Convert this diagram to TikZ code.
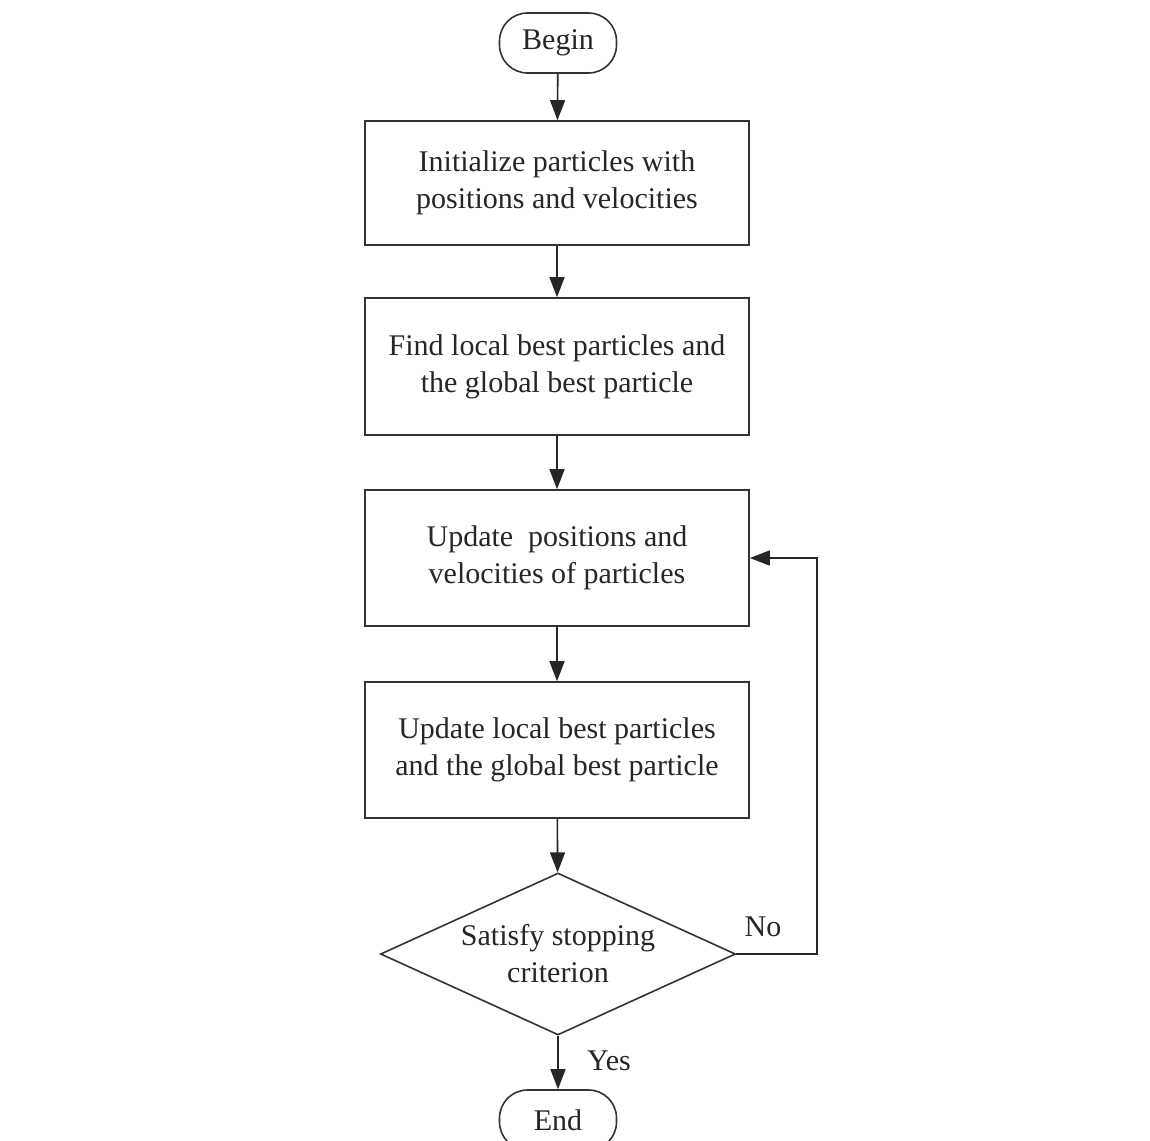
\documentclass[tikz,border=0pt]{standalone}
\usepackage{fontspec}
\setmainfont{Liberation Serif}
\usetikzlibrary{shapes.geometric,arrows.meta}
\begin{document}
\begin{tikzpicture}[x=1pt,y=-1pt,
  every node/.style={font=\fontsize{30}{37}\selectfont, text=black!85},
  pill/.style={draw=black!80, line width=1.6pt, rounded corners=28pt, minimum width=117pt, minimum height=60pt, inner sep=0pt},
  procbox/.style={draw=black!80, line width=1.6pt, minimum width=384pt, minimum height=124pt, align=center, inner sep=0pt},
  decision/.style={draw=black!80, line width=1.6pt, diamond, aspect=2.2, minimum width=355pt, minimum height=162pt, align=center, inner sep=0pt},
  flow/.style={draw=black!85, line width=1.6pt, -{Triangle[length=20pt,width=15pt]}},
  lbl/.style={font=\fontsize{30}{36}\selectfont}]
\useasboundingbox (0,0) rectangle (1150,1140);
\node[pill] (begin) at (558,43) {Begin};
\node[procbox] (init) at (557,183) {Initialize particles with\\positions and velocities};
\node[procbox, minimum height=137pt] (find) at (557,366.5) {Find local best particles and\\the global best particle};
\node[procbox, minimum height=136pt] (upd) at (557,558) {Update\ \ positions and\\velocities of particles};
\node[procbox, minimum height=136pt] (updbest) at (557,750) {Update local best particles\\and the global best particle};
\node[decision] (dec) at (558,954) {Satisfy stopping\\criterion};
\node[pill] (end) at (558,1120) {End};
\coordinate (c1) at (817,954);
\coordinate (c2) at (817,558);
\draw[flow] (begin) -- (init);
\draw[flow] (init) -- (find);
\draw[flow] (find) -- (upd);
\draw[flow] (upd) -- (updbest);
\draw[flow] (updbest) -- (dec);
\draw[flow] (dec) -- (end);
\draw[flow] (dec.east) -- (c1) -- (c2) -- (upd.east);
\node[lbl] (no) at (763,927) {No};
\node[lbl] (yes) at (609,1061) {Yes};
\end{tikzpicture}
\end{document}
